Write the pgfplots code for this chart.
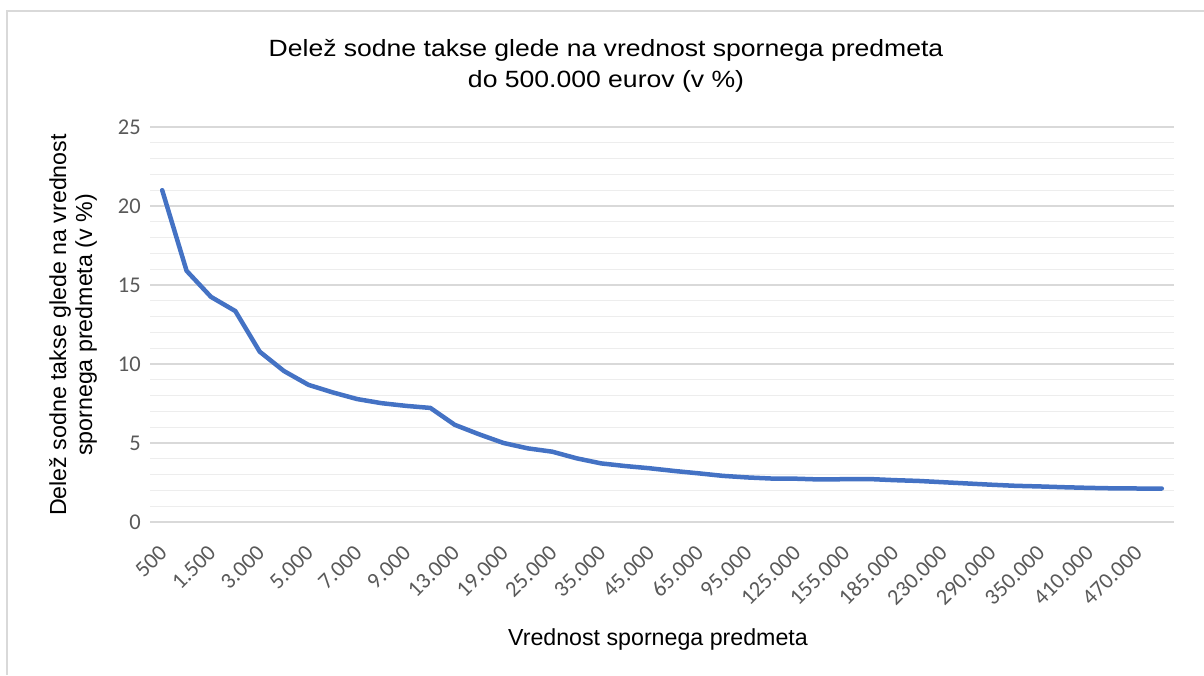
\documentclass[border=0pt]{standalone}
\usepackage{fontspec}
\setmainfont{Liberation Sans}
\newfontfamily\titlefont[FakeStretch=1.13]{Liberation Sans}
\newfontfamily\tickfont{Carlito}
\usepackage{pgfplots}
\pgfplotsset{compat=1.18}
\definecolor{linecol}{HTML}{4472C4}
\definecolor{majgrid}{HTML}{D9D9D9}
\definecolor{mingrid}{HTML}{EDEDED}
\definecolor{ticktext}{HTML}{595959}
\definecolor{framecol}{HTML}{D9D9D9}
\pgfplotstableread{
idx val
0 21.0
1 15.9
2 14.25
3 13.35
4 10.78
5 9.55
6 8.68
7 8.2
8 7.78
9 7.52
10 7.35
11 7.22
12 6.15
13 5.55
14 5.0
15 4.66
16 4.45
17 4.03
18 3.71
19 3.54
20 3.40
21 3.23
22 3.08
23 2.92
24 2.82
25 2.75
26 2.74
27 2.69
28 2.71
29 2.72
30 2.65
31 2.60
32 2.52
33 2.44
34 2.36
35 2.29
36 2.25
37 2.20
38 2.16
39 2.13
40 2.12
41 2.12
}\datatable
\begin{document}
\begin{tikzpicture}[x=1pt,y=1pt]
\path[use as bounding box] (0,0) rectangle (1204,675);
\draw[framecol, line width=2pt] (7,0) -- (7,664) -- (1204,664);
\begin{axis}[
  at={(150pt,153pt)}, anchor=south west,
  scale only axis, width=1024pt, height=395pt,
  xmin=-0.5, xmax=41.5, ymin=0, ymax=25,
  xtick={0,2,...,40},
  xticklabels={500,1.500,3.000,5.000,7.000,9.000,13.000,19.000,25.000,35.000,45.000,65.000,95.000,125.000,155.000,185.000,230.000,290.000,350.000,410.000,470.000},
  ytick={0,5,10,15,20,25},
  minor ytick={1,2,3,4,6,7,8,9,11,12,13,14,16,17,18,19,21,22,23,24},
  ymajorgrids, yminorgrids,
  major grid style={majgrid, line width=1.3pt},
  minor grid style={mingrid, line width=1.3pt},
  axis line style={draw=none},
  major tick length=0pt, minor tick length=0pt,
  tick style={draw=none},
  /pgf/number format/assume math mode=true,
  yticklabel style={font=\tickfont\fontsize{22.5}{26}\selectfont, text=ticktext, anchor=east, inner sep=0pt, xshift=-9pt},
  xticklabel style={font=\tickfont\fontsize{22.5}{26}\selectfont, text=ticktext, yshift=-27pt, xshift=1pt, rotate=45, anchor=east, inner sep=0pt},
]
\addplot[linecol, line width=4.5pt, line join=round, line cap=round] table[x=idx, y=val] {\datatable};
\end{axis}
\node[anchor=base, font=\titlefont\fontsize{23.5}{28}\selectfont] at (606,618) {Delež sodne takse glede na vrednost spornega predmeta};
\node[anchor=base, font=\titlefont\fontsize{23.5}{28}\selectfont] at (606,587) {do 500.000 eurov (v \%)};
\node[anchor=base, font=\fontsize{23.2}{28}\selectfont] at (658,30) {Vrednost spornega predmeta};
\node[anchor=base, rotate=90, font=\fontsize{23.2}{28}\selectfont] at (66,350) {Delež sodne takse glede na vrednost};
\node[anchor=base, rotate=90, font=\fontsize{23.2}{28}\selectfont] at (92,350) {spornega predmeta (v \%)};
\end{tikzpicture}
\end{document}
